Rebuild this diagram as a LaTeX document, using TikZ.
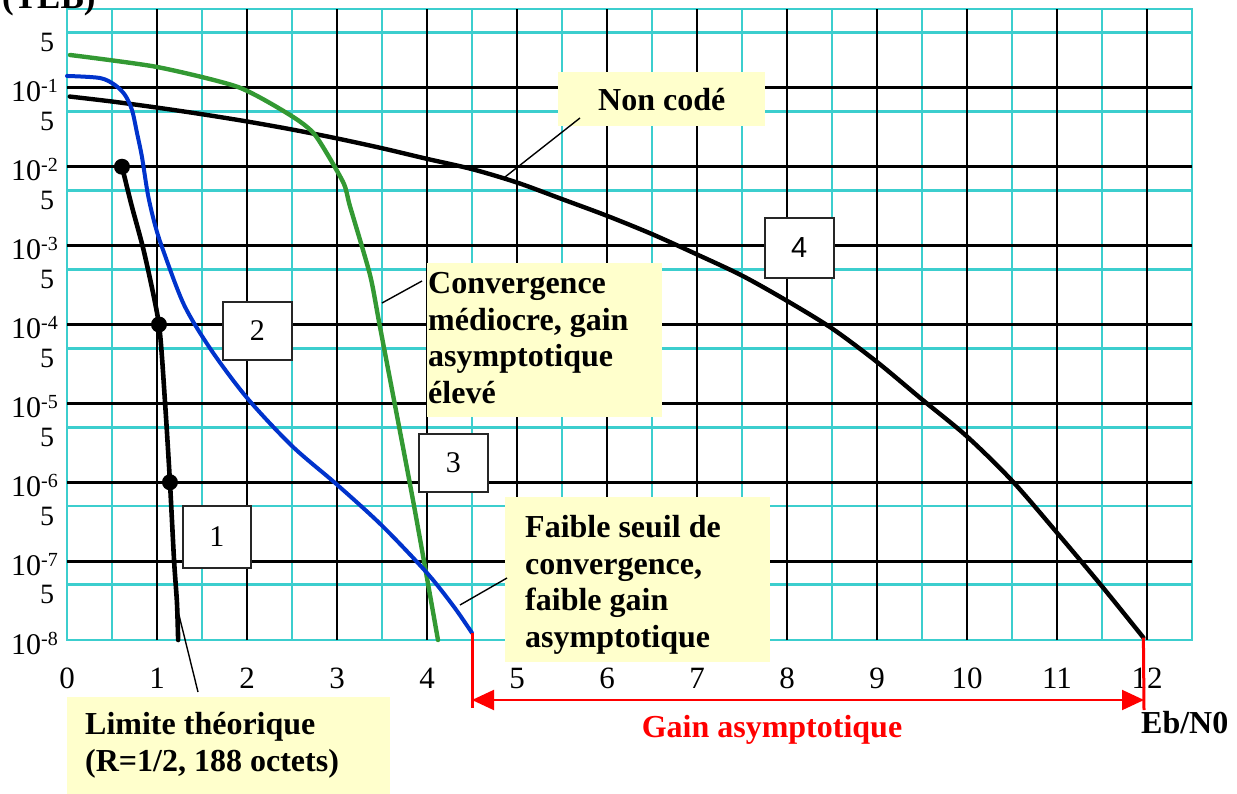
\documentclass[tikz,border=0pt]{standalone}
\usepackage{fontspec}
\setmainfont{Liberation Serif}
\newfontfamily\arialf{Liberation Sans}
\usetikzlibrary{arrows.meta}
\definecolor{gridcyan}{RGB}{60,206,206}
\definecolor{curvegreen}{RGB}{51,153,51}
\definecolor{curveblue}{RGB}{0,51,204}
\definecolor{notered}{RGB}{255,0,0}
\definecolor{noteyellow}{RGB}{255,255,204}
\begin{document}
\begin{tikzpicture}[x=1pt,y=-1pt,
  cyanline/.style={draw=gridcyan, line width=2.8pt},
  blackline/.style={draw=black, line width=2.8pt},
  curvestyle/.style={line width=4.4pt, line join=round, line cap=round},
  ybox/.style={fill=noteyellow, draw=none, inner sep=0pt},
  notetext/.style={font=\bfseries\fontsize{32}{36.7}\selectfont, inner sep=0pt, align=left},
  numbox/.style={draw=black!85, line width=1.6pt, fill=white, inner sep=0pt, font=\fontsize{30}{30}\selectfont},
  pointer/.style={draw=black, line width=1.4pt},
  ticklab/.style={font=\fontsize{31}{31}\selectfont, inner sep=0pt},
  ylab/.style={font=\fontsize{30}{30}\selectfont, inner sep=0pt},
  yfive/.style={font=\fontsize{28}{28}\selectfont, inner sep=0pt},
  dotnode/.style={circle, fill=black, inner sep=0pt, minimum size=16pt},
  redline/.style={draw=notered, line width=3pt},
  redarrow/.style={draw=notered, line width=2pt, {Triangle[length=22pt,width=20pt]}-{Triangle[length=22pt,width=20pt]}}
]
\useasboundingbox (0,0) rectangle (1237,794);

\begin{scope}[shift={(67,640)}, x=90pt, y=78.875pt]
  % cyan grid
  \foreach \v in {0.5,1.5,...,12.5} \draw[cyanline] (\v,0) -- (\v,8);
  \foreach \k in {0,...,7} \draw[cyanline] (0,\k+0.699) -- (12.5,\k+0.699);
  \draw[cyanline] (0,0) rectangle (12.5,8);
  % black grid
  \foreach \v in {1,...,12} \draw[blackline] (\v,0) -- (\v,8);
  \foreach \k in {1,...,7} \draw[blackline] (0,\k) -- (12.5,\k);

  % curve 4 : uncoded
  \draw[curvestyle, black] plot[smooth, tension=0.5] coordinates {
    (0.03,6.89) (0.5,6.827) (1,6.75) (1.5,6.666) (2,6.574) (2.5,6.472) (3,6.359)
    (3.5,6.235) (4,6.10) (4.5,5.97) (5,5.80) (5.5,5.59) (6,5.378) (6.5,5.146)
    (7,4.888) (7.5,4.62) (8,4.30) (8.5,3.95) (9,3.525) (9.5,3.05) (10,2.58)
    (10.5,2.02) (11,1.36) (11.5,0.68) (11.96,0.03)};
  \coordinate (c4end) at (11.96,0.03);

  % curve 3 : green
  \draw[curvestyle, curvegreen] plot[smooth, tension=0.4] coordinates {
    (0.033,7.417) (1.0,7.265) (1.9,7.011) (2.478,6.656) (2.756,6.403)
    (3.067,5.807) (3.144,5.5) (3.367,4.628) (3.478,3.968) (3.844,1.775) (4.122,0)};

  % curve 2 : blue
  \draw[curvestyle, curveblue, line width=4pt] plot[smooth, tension=0.5] coordinates {
    (0,7.151) (0.367,7.125) (0.533,7.036) (0.644,6.910) (0.722,6.720) (0.778,6.428)
    (0.833,6.124) (0.9,5.642) (0.978,5.262) (1.067,4.945) (1.3,4.25) (1.6,3.68)
    (2.0,3.07) (2.5,2.46) (3.0,1.97) (3.5,1.45) (4.0,0.85) (4.3,0.42) (4.5,0.089)};
  \coordinate (c2end) at (4.5,0.089);

  % curve 1 : theoretical limit
  \draw[curvestyle, black, line width=4.6pt] plot[smooth, tension=0.4] coordinates {
    (0.611,6) (0.72,5.5) (0.86,4.9) (1.022,4.0) (1.09,3.0) (1.144,2.0)
    (1.19,1.0) (1.222,0.47) (1.235,0)};
  \node[dotnode] (dota) at (0.611,6) {};
  \node[dotnode] (dotb) at (1.022,4) {};
  \node[dotnode] (dotc) at (1.144,2) {};

  % axis labels
  \foreach \v in {0,...,12} \node[ticklab, anchor=base] (xl\v) at (\v,-0.61) {\v};
  \foreach \k in {1,...,8} \node[ylab, anchor=base east] (yd\k) at (-0.1,8-\k-0.1775)
      {10\raisebox{9pt}{\fontsize{20}{20}\selectfont -\k}};
  \foreach \k in {1,...,8} \node[yfive, anchor=base east] (yf\k) at (-0.14,8-\k+0.458) {5};
\end{scope}

% clipped title
\node[font=\bfseries\fontsize{35}{35}\selectfont, inner sep=0pt, anchor=base west] (teb) at (2,9) {(TEB)};

% number boxes
\node[numbox, minimum width=68pt, minimum height=62pt, anchor=north west] (n1) at (182,505) {1};
\node[numbox, minimum width=69pt, minimum height=58pt, anchor=north west] (n2) at (222,301) {2};
\node[numbox, minimum width=69pt, minimum height=58pt, anchor=north west] (n3) at (418,433) {3};
\node[numbox, minimum width=69pt, minimum height=60pt, anchor=north west, font=\arialf\fontsize{29}{29}\selectfont] (n4) at (764,217) {4};

% yellow notes
\node[ybox, minimum width=207pt, minimum height=54pt, anchor=north west, font=\bfseries\fontsize{32}{36.7}\selectfont] (noncode) at (558,72) {Non codé};
\node[ybox, minimum width=235pt, minimum height=154pt, anchor=north west] (convbox) at (427,263) {};
\node[notetext, anchor=north west] (convtxt) at (428,272) {Convergence\\médiocre, gain\\asymptotique\\élevé};
\node[ybox, minimum width=265pt, minimum height=165pt, anchor=north west] (faiblebox) at (505,497) {};
\node[notetext, anchor=north west] (faibletxt) at (525,515) {Faible seuil de\\convergence,\\faible gain\\asymptotique};
\node[ybox, minimum width=323pt, minimum height=97pt, anchor=north west] (limbox) at (67,697) {};
\node[notetext, anchor=north west] (limtxt) at (85,712) {Limite théorique\\(R=1/2, 188 octets)};

% pointers
\coordinate (pn1) at (580,118); \coordinate (pn2) at (505,177);
\coordinate (pc1) at (422,281); \coordinate (pc2) at (382,303);
\coordinate (pf1) at (507,578); \coordinate (pf2) at (460,605);
\coordinate (pl1) at (198,692); \coordinate (pl2) at (177,607);
\draw[pointer] (pn1) -- (pn2);
\draw[pointer] (pc1) -- (pc2);
\draw[pointer] (pf1) -- (pf2);
\draw[pointer] (pl1) -- (pl2);

% gain arrow
\coordinate (gL) at (472,708); \coordinate (gR) at (1144,710);
\coordinate (aL) at (472,700); \coordinate (aR) at (1144,700);
\draw[redline] (c2end) -- (gL);
\draw[redline] (c4end) -- (gR);
\draw[redarrow] (aL) -- (aR);
\node[font=\bfseries\fontsize{32}{32}\selectfont, text=notered, inner sep=0pt, anchor=base] (gain) at (772,737) {Gain asymptotique};
\node[font=\bfseries\fontsize{32}{32}\selectfont, inner sep=0pt, anchor=base west] (ebn0) at (1141,733) {Eb/N0};
\end{tikzpicture}
\end{document}
